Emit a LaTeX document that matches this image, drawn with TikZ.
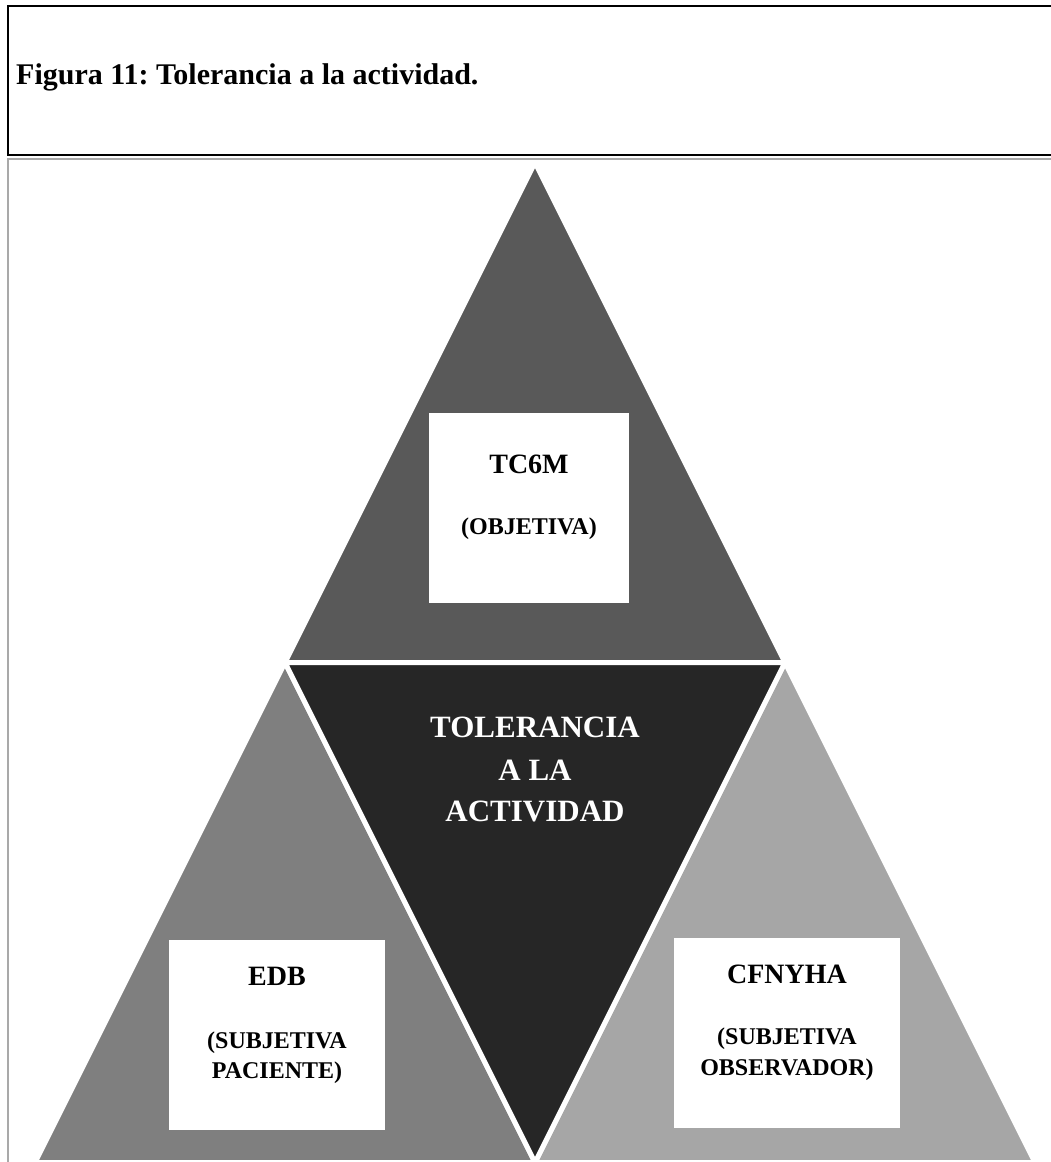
\documentclass[tikz,border=0pt]{standalone}
\usepackage{fontspec}
\setmainfont{Liberation Serif}
\frenchspacing
\definecolor{gTop}{HTML}{595959}
\definecolor{gMid}{HTML}{262626}
\definecolor{gLeft}{HTML}{7F7F7F}
\definecolor{gRight}{HTML}{A6A6A6}
\definecolor{frameGray}{HTML}{A9A9A9}
\begin{document}
\begin{tikzpicture}[x=1pt,y=-1pt,
  tri/.style={draw=white,line width=5pt,line join=miter},
  card/.style={fill=white,draw=none,inner sep=0pt,anchor=north west},
  lbl/.style={font=\fontsize{28}{34}\selectfont\bfseries,anchor=base,inner sep=0pt},
  sublbl/.style={font=\fontsize{24}{30}\selectfont\bfseries,anchor=base,inner sep=0pt},
  ctr/.style={font=\fontsize{31}{42}\selectfont\bfseries,text=white,anchor=base,inner sep=0pt}]
\useasboundingbox (0,0) rectangle (1051,1162);

% corner points of the pyramid
\coordinate (apex) at (535,162.5);
\coordinate (ml) at (285,662.5);
\coordinate (mr) at (785,662.5);
\coordinate (bl) at (35,1162.5);
\coordinate (bm) at (535,1162.5);
\coordinate (br) at (1035,1162.5);

\filldraw[tri,fill=gTop] (apex) -- (ml) -- (mr) -- cycle;
\filldraw[tri,fill=gLeft] (ml) -- (bl) -- (bm) -- cycle;
\filldraw[tri,fill=gRight] (mr) -- (bm) -- (br) -- cycle;
\filldraw[tri,fill=gMid] (ml) -- (mr) -- (bm) -- cycle;

% caption frame and the open frame below it
\draw[line width=2pt] (8,6) rectangle (1080,155);
\draw[frameGray,line width=2.5pt] (8,1200) -- (8,159) -- (1080,159);
\node[anchor=base west,inner sep=0pt,font=\fontsize{30}{34}\selectfont\bfseries]
  (title) at (16,84) {Figura 11: Tolerancia a la actividad.};

% white cards
\node[card,minimum width=200pt,minimum height=190pt] (topcard) at (429,413) {};
\node[card,minimum width=216pt,minimum height=190pt] (leftcard) at (169,940) {};
\node[card,minimum width=226pt,minimum height=190pt] (rightcard) at (674,938) {};

% labels
\node[lbl] (tc) at (529,473) {TC6M};
\node[sublbl] (obj) at (529,534) {(OBJETIVA)};

\node[lbl] (edb) at (277,985) {EDB};
\node[sublbl] (subp1) at (277,1048) {(SUBJETIVA};
\node[sublbl] (subp2) at (277,1078) {PACIENTE)};

\node[lbl] (cf) at (787,983) {CFNYHA};
\node[sublbl] (subo1) at (787,1044) {(SUBJETIVA};
\node[sublbl] (subo2) at (787,1075) {OBSERVADOR)};

\node[ctr] (c1) at (535,737) {TOLERANCIA};
\node[ctr] (c2) at (535,780) {A LA};
\node[ctr] (c3) at (535,821) {ACTIVIDAD};
\end{tikzpicture}
\end{document}
